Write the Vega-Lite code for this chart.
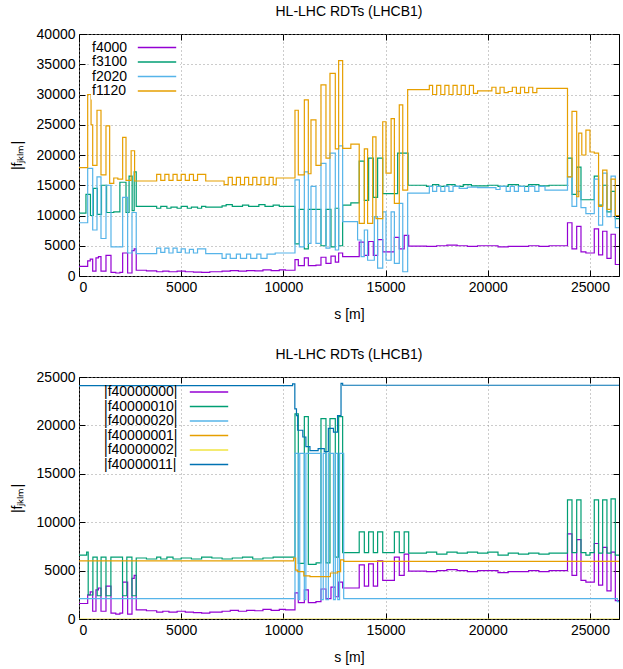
{
"$schema": "https://vega.github.io/schema/vega-lite/v6.json",
"padding": {"left": 9, "top": 4, "right": 0, "bottom": 0},
"spacing": 25,
"config": {
  "font": "Liberation Sans",
  "view": {"stroke": "black", "strokeWidth": 1},
  "axis": {"labelFontSize": 14, "titleFontSize": 14, "titleFontWeight": "normal", "labelColor": "#000", "titleColor": "#000", "domain": false, "tickColor": "#000", "tickSize": -6, "tickWidth": 1, "gridColor": "#999", "gridDash": [1, 3], "gridWidth": 1},
  "title": {"fontSize": 14, "fontWeight": "normal", "offset": 8, "color": "#000"}
},
"datasets": {
"top": [
{"s":0,"v":1600,"k":"f4000"},{"s":425,"v":2500,"k":"f4000"},{"s":550,"v":2800,"k":"f4000"},{"s":670,"v":800,"k":"f4000"},{"s":830,"v":3000,"k":"f4000"},{"s":950,"v":3200,"k":"f4000"},{"s":1076,"v":800,"k":"f4000"},{"s":1320,"v":3400,"k":"f4000"},{"s":1565,"v":600,"k":"f4000"},{"s":1800,"v":500,"k":"f4000"},{"s":2000,"v":600,"k":"f4000"},{"s":2136,"v":3800,"k":"f4000"},{"s":2380,"v":500,"k":"f4000"},{"s":2593,"v":4200,"k":"f4000"},{"s":2700,"v":4500,"k":"f4000"},{"s":2800,"v":950,"k":"f4000"},{"s":3300,"v":850,"k":"f4000"},{"s":3800,"v":700,"k":"f4000"},{"s":4100,"v":800,"k":"f4000"},{"s":4400,"v":700,"k":"f4000"},{"s":4800,"v":800,"k":"f4000"},{"s":5200,"v":700,"k":"f4000"},{"s":5600,"v":650,"k":"f4000"},{"s":6000,"v":600,"k":"f4000"},{"s":6400,"v":700,"k":"f4000"},{"s":7000,"v":800,"k":"f4000"},{"s":7400,"v":900,"k":"f4000"},{"s":7800,"v":800,"k":"f4000"},{"s":8200,"v":900,"k":"f4000"},{"s":8600,"v":850,"k":"f4000"},{"s":9000,"v":1000,"k":"f4000"},{"s":9400,"v":900,"k":"f4000"},{"s":9800,"v":1000,"k":"f4000"},{"s":10100,"v":950,"k":"f4000"},{"s":10567,"v":2700,"k":"f4000"},{"s":10730,"v":1700,"k":"f4000"},{"s":11025,"v":3000,"k":"f4000"},{"s":11220,"v":1700,"k":"f4000"},{"s":11594,"v":1800,"k":"f4000"},{"s":11839,"v":3100,"k":"f4000"},{"s":12083,"v":2100,"k":"f4000"},{"s":12328,"v":3300,"k":"f4000"},{"s":12540,"v":2300,"k":"f4000"},{"s":12703,"v":3800,"k":"f4000"},{"s":12899,"v":3200,"k":"f4000"},{"s":13710,"v":5600,"k":"f4000"},{"s":13960,"v":3400,"k":"f4000"},{"s":14170,"v":5700,"k":"f4000"},{"s":14400,"v":3400,"k":"f4000"},{"s":14610,"v":6000,"k":"f4000"},{"s":14860,"v":4000,"k":"f4000"},{"s":15430,"v":6400,"k":"f4000"},{"s":15670,"v":4500,"k":"f4000"},{"s":15910,"v":6700,"k":"f4000"},{"s":16130,"v":4950,"k":"f4000"},{"s":17000,"v":4900,"k":"f4000"},{"s":17500,"v":5000,"k":"f4000"},{"s":18000,"v":5100,"k":"f4000"},{"s":18500,"v":5000,"k":"f4000"},{"s":19000,"v":4900,"k":"f4000"},{"s":19500,"v":5000,"k":"f4000"},{"s":20500,"v":4800,"k":"f4000"},{"s":21000,"v":4900,"k":"f4000"},{"s":22000,"v":5000,"k":"f4000"},{"s":22500,"v":4900,"k":"f4000"},{"s":23000,"v":5000,"k":"f4000"},{"s":23900,"v":8800,"k":"f4000"},{"s":24120,"v":4500,"k":"f4000"},{"s":24350,"v":8200,"k":"f4000"},{"s":24560,"v":4000,"k":"f4000"},{"s":24800,"v":3800,"k":"f4000"},{"s":25210,"v":7800,"k":"f4000"},{"s":25420,"v":3500,"k":"f4000"},{"s":25620,"v":7400,"k":"f4000"},{"s":25830,"v":2900,"k":"f4000"},{"s":26030,"v":6900,"k":"f4000"},{"s":26240,"v":1900,"k":"f4000"},{"s":26420,"v":1900,"k":"f4000"},
{"s":0,"v":10400,"k":"f3100"},{"s":340,"v":13500,"k":"f3100"},{"s":560,"v":10000,"k":"f3100"},{"s":700,"v":14500,"k":"f3100"},{"s":900,"v":10200,"k":"f3100"},{"s":1100,"v":15000,"k":"f3100"},{"s":1350,"v":10500,"k":"f3100"},{"s":1700,"v":10600,"k":"f3100"},{"s":2000,"v":15500,"k":"f3100"},{"s":2300,"v":10500,"k":"f3100"},{"s":2450,"v":16500,"k":"f3100"},{"s":2600,"v":10800,"k":"f3100"},{"s":2700,"v":17200,"k":"f3100"},{"s":2800,"v":11500,"k":"f3100"},{"s":3800,"v":11200,"k":"f3100"},{"s":4000,"v":11500,"k":"f3100"},{"s":4300,"v":11200,"k":"f3100"},{"s":4500,"v":11400,"k":"f3100"},{"s":4800,"v":11200,"k":"f3100"},{"s":5000,"v":11500,"k":"f3100"},{"s":5300,"v":11200,"k":"f3100"},{"s":5500,"v":11400,"k":"f3100"},{"s":5800,"v":11200,"k":"f3100"},{"s":6000,"v":11500,"k":"f3100"},{"s":6200,"v":11400,"k":"f3100"},{"s":7000,"v":11600,"k":"f3100"},{"s":7200,"v":11800,"k":"f3100"},{"s":7500,"v":11500,"k":"f3100"},{"s":8000,"v":11700,"k":"f3100"},{"s":8300,"v":11500,"k":"f3100"},{"s":8800,"v":11800,"k":"f3100"},{"s":9100,"v":11500,"k":"f3100"},{"s":9500,"v":11700,"k":"f3100"},{"s":9800,"v":11500,"k":"f3100"},{"s":10567,"v":5300,"k":"f3100"},{"s":10780,"v":11000,"k":"f3100"},{"s":11025,"v":4500,"k":"f3100"},{"s":11220,"v":11000,"k":"f3100"},{"s":11839,"v":5000,"k":"f3100"},{"s":12083,"v":11000,"k":"f3100"},{"s":12328,"v":4800,"k":"f3100"},{"s":12540,"v":11200,"k":"f3100"},{"s":12703,"v":5000,"k":"f3100"},{"s":12899,"v":11700,"k":"f3100"},{"s":13300,"v":12100,"k":"f3100"},{"s":13710,"v":19000,"k":"f3100"},{"s":13960,"v":12500,"k":"f3100"},{"s":14170,"v":19500,"k":"f3100"},{"s":14400,"v":13000,"k":"f3100"},{"s":14610,"v":19500,"k":"f3100"},{"s":14860,"v":13600,"k":"f3100"},{"s":15590,"v":20300,"k":"f3100"},{"s":16100,"v":15000,"k":"f3100"},{"s":17000,"v":14800,"k":"f3100"},{"s":17300,"v":15100,"k":"f3100"},{"s":17600,"v":14800,"k":"f3100"},{"s":18000,"v":15100,"k":"f3100"},{"s":18400,"v":14800,"k":"f3100"},{"s":18800,"v":15100,"k":"f3100"},{"s":19200,"v":14900,"k":"f3100"},{"s":20000,"v":15000,"k":"f3100"},{"s":20500,"v":14800,"k":"f3100"},{"s":21000,"v":15100,"k":"f3100"},{"s":21500,"v":14800,"k":"f3100"},{"s":22000,"v":15100,"k":"f3100"},{"s":22500,"v":14900,"k":"f3100"},{"s":23000,"v":15000,"k":"f3100"},{"s":23900,"v":19500,"k":"f3100"},{"s":24120,"v":13500,"k":"f3100"},{"s":24350,"v":18000,"k":"f3100"},{"s":24560,"v":12600,"k":"f3100"},{"s":25210,"v":16500,"k":"f3100"},{"s":25420,"v":11700,"k":"f3100"},{"s":25620,"v":15000,"k":"f3100"},{"s":25830,"v":10600,"k":"f3100"},{"s":26030,"v":14000,"k":"f3100"},{"s":26240,"v":9500,"k":"f3100"},{"s":26420,"v":9500,"k":"f3100"},
{"s":0,"v":8800,"k":"f2020"},{"s":425,"v":17800,"k":"f2020"},{"s":670,"v":7600,"k":"f2020"},{"s":880,"v":16400,"k":"f2020"},{"s":1076,"v":6200,"k":"f2020"},{"s":1320,"v":15000,"k":"f2020"},{"s":1565,"v":4800,"k":"f2020"},{"s":2136,"v":13000,"k":"f2020"},{"s":2380,"v":3800,"k":"f2020"},{"s":2593,"v":10500,"k":"f2020"},{"s":2800,"v":3700,"k":"f2020"},{"s":3800,"v":4600,"k":"f2020"},{"s":4000,"v":3900,"k":"f2020"},{"s":4200,"v":4600,"k":"f2020"},{"s":4400,"v":3800,"k":"f2020"},{"s":4600,"v":4600,"k":"f2020"},{"s":4800,"v":3900,"k":"f2020"},{"s":5000,"v":4500,"k":"f2020"},{"s":5200,"v":3800,"k":"f2020"},{"s":5400,"v":4400,"k":"f2020"},{"s":5600,"v":3800,"k":"f2020"},{"s":5800,"v":4500,"k":"f2020"},{"s":6200,"v":3700,"k":"f2020"},{"s":7000,"v":2900,"k":"f2020"},{"s":7200,"v":3600,"k":"f2020"},{"s":7400,"v":2900,"k":"f2020"},{"s":7700,"v":3600,"k":"f2020"},{"s":7900,"v":2900,"k":"f2020"},{"s":8200,"v":3600,"k":"f2020"},{"s":8400,"v":2900,"k":"f2020"},{"s":8700,"v":3600,"k":"f2020"},{"s":8900,"v":2900,"k":"f2020"},{"s":9200,"v":3600,"k":"f2020"},{"s":9600,"v":3800,"k":"f2020"},{"s":10567,"v":15900,"k":"f2020"},{"s":10780,"v":4800,"k":"f2020"},{"s":11025,"v":17200,"k":"f2020"},{"s":11220,"v":5400,"k":"f2020"},{"s":11350,"v":14800,"k":"f2020"},{"s":11594,"v":5400,"k":"f2020"},{"s":11839,"v":18600,"k":"f2020"},{"s":12083,"v":4600,"k":"f2020"},{"s":12279,"v":20300,"k":"f2020"},{"s":12540,"v":4300,"k":"f2020"},{"s":12703,"v":21500,"k":"f2020"},{"s":12899,"v":9000,"k":"f2020"},{"s":13630,"v":5950,"k":"f2020"},{"s":13800,"v":3200,"k":"f2020"},{"s":13960,"v":7600,"k":"f2020"},{"s":14120,"v":2600,"k":"f2020"},{"s":14450,"v":9800,"k":"f2020"},{"s":14610,"v":1300,"k":"f2020"},{"s":14860,"v":10600,"k":"f2020"},{"s":15020,"v":2600,"k":"f2020"},{"s":15270,"v":10600,"k":"f2020"},{"s":15430,"v":2100,"k":"f2020"},{"s":15670,"v":12000,"k":"f2020"},{"s":15840,"v":700,"k":"f2020"},{"s":16080,"v":13700,"k":"f2020"},{"s":17140,"v":14800,"k":"f2020"},{"s":17300,"v":14000,"k":"f2020"},{"s":17500,"v":14800,"k":"f2020"},{"s":17700,"v":14000,"k":"f2020"},{"s":17900,"v":14800,"k":"f2020"},{"s":18100,"v":14000,"k":"f2020"},{"s":18300,"v":14800,"k":"f2020"},{"s":18600,"v":14500,"k":"f2020"},{"s":19000,"v":14700,"k":"f2020"},{"s":19500,"v":14600,"k":"f2020"},{"s":20400,"v":14300,"k":"f2020"},{"s":20600,"v":14800,"k":"f2020"},{"s":20900,"v":14000,"k":"f2020"},{"s":21100,"v":14800,"k":"f2020"},{"s":21300,"v":14000,"k":"f2020"},{"s":21500,"v":14800,"k":"f2020"},{"s":21800,"v":14000,"k":"f2020"},{"s":22000,"v":14800,"k":"f2020"},{"s":22300,"v":14000,"k":"f2020"},{"s":22500,"v":14800,"k":"f2020"},{"s":22800,"v":14200,"k":"f2020"},{"s":23900,"v":16400,"k":"f2020"},{"s":24120,"v":11500,"k":"f2020"},{"s":24350,"v":14000,"k":"f2020"},{"s":24560,"v":11300,"k":"f2020"},{"s":24800,"v":10300,"k":"f2020"},{"s":25210,"v":16000,"k":"f2020"},{"s":25420,"v":8400,"k":"f2020"},{"s":25620,"v":17000,"k":"f2020"},{"s":25830,"v":9800,"k":"f2020"},{"s":26030,"v":16500,"k":"f2020"},{"s":26240,"v":8000,"k":"f2020"},{"s":26420,"v":8000,"k":"f2020"},
{"s":0,"v":17900,"k":"f1120"},{"s":425,"v":30000,"k":"f1120"},{"s":590,"v":25000,"k":"f1120"},{"s":670,"v":18300,"k":"f1120"},{"s":880,"v":27400,"k":"f1120"},{"s":1076,"v":16700,"k":"f1120"},{"s":1320,"v":24800,"k":"f1120"},{"s":1500,"v":15300,"k":"f1120"},{"s":1700,"v":16200,"k":"f1120"},{"s":1900,"v":16000,"k":"f1120"},{"s":2136,"v":22900,"k":"f1120"},{"s":2300,"v":15800,"k":"f1120"},{"s":2550,"v":20700,"k":"f1120"},{"s":2720,"v":15700,"k":"f1120"},{"s":3800,"v":16800,"k":"f1120"},{"s":4000,"v":15800,"k":"f1120"},{"s":4200,"v":16800,"k":"f1120"},{"s":4400,"v":15800,"k":"f1120"},{"s":4600,"v":16800,"k":"f1120"},{"s":4800,"v":15800,"k":"f1120"},{"s":5000,"v":16800,"k":"f1120"},{"s":5200,"v":15800,"k":"f1120"},{"s":5400,"v":16800,"k":"f1120"},{"s":5600,"v":15800,"k":"f1120"},{"s":5800,"v":16800,"k":"f1120"},{"s":6200,"v":15700,"k":"f1120"},{"s":7100,"v":15100,"k":"f1120"},{"s":7300,"v":16300,"k":"f1120"},{"s":7500,"v":15100,"k":"f1120"},{"s":7700,"v":16300,"k":"f1120"},{"s":7900,"v":15100,"k":"f1120"},{"s":8100,"v":16300,"k":"f1120"},{"s":8300,"v":15100,"k":"f1120"},{"s":8500,"v":16300,"k":"f1120"},{"s":8700,"v":15100,"k":"f1120"},{"s":8900,"v":16300,"k":"f1120"},{"s":9100,"v":15100,"k":"f1120"},{"s":9300,"v":16300,"k":"f1120"},{"s":9500,"v":15100,"k":"f1120"},{"s":9650,"v":16200,"k":"f1120"},{"s":10567,"v":27400,"k":"f1120"},{"s":10730,"v":16700,"k":"f1120"},{"s":11025,"v":29100,"k":"f1120"},{"s":11220,"v":16900,"k":"f1120"},{"s":11350,"v":25800,"k":"f1120"},{"s":11594,"v":18300,"k":"f1120"},{"s":11839,"v":31600,"k":"f1120"},{"s":12083,"v":19500,"k":"f1120"},{"s":12279,"v":33500,"k":"f1120"},{"s":12540,"v":21000,"k":"f1120"},{"s":12703,"v":35600,"k":"f1120"},{"s":12899,"v":21100,"k":"f1120"},{"s":13300,"v":21800,"k":"f1120"},{"s":13710,"v":8700,"k":"f1120"},{"s":13960,"v":21000,"k":"f1120"},{"s":14120,"v":8700,"k":"f1120"},{"s":14370,"v":23000,"k":"f1120"},{"s":14530,"v":9500,"k":"f1120"},{"s":14860,"v":25500,"k":"f1120"},{"s":15020,"v":17000,"k":"f1120"},{"s":15270,"v":26000,"k":"f1120"},{"s":15430,"v":12000,"k":"f1120"},{"s":15670,"v":28300,"k":"f1120"},{"s":15840,"v":14200,"k":"f1120"},{"s":16080,"v":30800,"k":"f1120"},{"s":17140,"v":31500,"k":"f1120"},{"s":17300,"v":30000,"k":"f1120"},{"s":17500,"v":31500,"k":"f1120"},{"s":17700,"v":30000,"k":"f1120"},{"s":17900,"v":31500,"k":"f1120"},{"s":18100,"v":30000,"k":"f1120"},{"s":18300,"v":31500,"k":"f1120"},{"s":18500,"v":30000,"k":"f1120"},{"s":18700,"v":31500,"k":"f1120"},{"s":18900,"v":30000,"k":"f1120"},{"s":19100,"v":31500,"k":"f1120"},{"s":19300,"v":30200,"k":"f1120"},{"s":19500,"v":30600,"k":"f1120"},{"s":20200,"v":31200,"k":"f1120"},{"s":20400,"v":30200,"k":"f1120"},{"s":20600,"v":31200,"k":"f1120"},{"s":20800,"v":30300,"k":"f1120"},{"s":21000,"v":30500,"k":"f1120"},{"s":21200,"v":31200,"k":"f1120"},{"s":21400,"v":30200,"k":"f1120"},{"s":21600,"v":31200,"k":"f1120"},{"s":21800,"v":30300,"k":"f1120"},{"s":22000,"v":31200,"k":"f1120"},{"s":22200,"v":30300,"k":"f1120"},{"s":22400,"v":31000,"k":"f1120"},{"s":23900,"v":16400,"k":"f1120"},{"s":24120,"v":27200,"k":"f1120"},{"s":24350,"v":13100,"k":"f1120"},{"s":24450,"v":23600,"k":"f1120"},{"s":24600,"v":20000,"k":"f1120"},{"s":24800,"v":24100,"k":"f1120"},{"s":25000,"v":20500,"k":"f1120"},{"s":25210,"v":20300,"k":"f1120"},{"s":25420,"v":11500,"k":"f1120"},{"s":25620,"v":17500,"k":"f1120"},{"s":25830,"v":11000,"k":"f1120"},{"s":26030,"v":16000,"k":"f1120"},{"s":26240,"v":10000,"k":"f1120"},{"s":26420,"v":10000,"k":"f1120"}
],
"bot": [
{"s":0,"v":1600,"k":"|f40000000|"},{"s":425,"v":2500,"k":"|f40000000|"},{"s":550,"v":2800,"k":"|f40000000|"},{"s":670,"v":800,"k":"|f40000000|"},{"s":830,"v":3000,"k":"|f40000000|"},{"s":950,"v":3200,"k":"|f40000000|"},{"s":1076,"v":800,"k":"|f40000000|"},{"s":1320,"v":3400,"k":"|f40000000|"},{"s":1565,"v":600,"k":"|f40000000|"},{"s":1800,"v":500,"k":"|f40000000|"},{"s":2000,"v":600,"k":"|f40000000|"},{"s":2136,"v":3800,"k":"|f40000000|"},{"s":2380,"v":500,"k":"|f40000000|"},{"s":2593,"v":4200,"k":"|f40000000|"},{"s":2700,"v":4500,"k":"|f40000000|"},{"s":2800,"v":950,"k":"|f40000000|"},{"s":3300,"v":850,"k":"|f40000000|"},{"s":3800,"v":700,"k":"|f40000000|"},{"s":4100,"v":800,"k":"|f40000000|"},{"s":4400,"v":700,"k":"|f40000000|"},{"s":4800,"v":800,"k":"|f40000000|"},{"s":5200,"v":700,"k":"|f40000000|"},{"s":5600,"v":650,"k":"|f40000000|"},{"s":6000,"v":600,"k":"|f40000000|"},{"s":6400,"v":700,"k":"|f40000000|"},{"s":7000,"v":800,"k":"|f40000000|"},{"s":7400,"v":900,"k":"|f40000000|"},{"s":7800,"v":800,"k":"|f40000000|"},{"s":8200,"v":900,"k":"|f40000000|"},{"s":8600,"v":850,"k":"|f40000000|"},{"s":9000,"v":1000,"k":"|f40000000|"},{"s":9400,"v":900,"k":"|f40000000|"},{"s":9800,"v":1000,"k":"|f40000000|"},{"s":10100,"v":950,"k":"|f40000000|"},{"s":10567,"v":2700,"k":"|f40000000|"},{"s":10730,"v":1700,"k":"|f40000000|"},{"s":11025,"v":3000,"k":"|f40000000|"},{"s":11220,"v":1700,"k":"|f40000000|"},{"s":11594,"v":1800,"k":"|f40000000|"},{"s":11839,"v":3100,"k":"|f40000000|"},{"s":12083,"v":2100,"k":"|f40000000|"},{"s":12328,"v":3300,"k":"|f40000000|"},{"s":12540,"v":2300,"k":"|f40000000|"},{"s":12703,"v":3800,"k":"|f40000000|"},{"s":12899,"v":3200,"k":"|f40000000|"},{"s":13710,"v":5600,"k":"|f40000000|"},{"s":13960,"v":3400,"k":"|f40000000|"},{"s":14170,"v":5700,"k":"|f40000000|"},{"s":14400,"v":3400,"k":"|f40000000|"},{"s":14610,"v":6000,"k":"|f40000000|"},{"s":14860,"v":4000,"k":"|f40000000|"},{"s":15430,"v":6400,"k":"|f40000000|"},{"s":15670,"v":4500,"k":"|f40000000|"},{"s":15910,"v":6700,"k":"|f40000000|"},{"s":16130,"v":4950,"k":"|f40000000|"},{"s":17000,"v":4900,"k":"|f40000000|"},{"s":17500,"v":5000,"k":"|f40000000|"},{"s":18000,"v":5100,"k":"|f40000000|"},{"s":18500,"v":5000,"k":"|f40000000|"},{"s":19000,"v":4900,"k":"|f40000000|"},{"s":19500,"v":5000,"k":"|f40000000|"},{"s":20500,"v":4800,"k":"|f40000000|"},{"s":21000,"v":4900,"k":"|f40000000|"},{"s":22000,"v":5000,"k":"|f40000000|"},{"s":22500,"v":4900,"k":"|f40000000|"},{"s":23000,"v":5000,"k":"|f40000000|"},{"s":23900,"v":8800,"k":"|f40000000|"},{"s":24120,"v":4500,"k":"|f40000000|"},{"s":24350,"v":8200,"k":"|f40000000|"},{"s":24560,"v":4000,"k":"|f40000000|"},{"s":24800,"v":3800,"k":"|f40000000|"},{"s":25210,"v":7800,"k":"|f40000000|"},{"s":25420,"v":3500,"k":"|f40000000|"},{"s":25620,"v":7400,"k":"|f40000000|"},{"s":25830,"v":2900,"k":"|f40000000|"},{"s":26030,"v":6900,"k":"|f40000000|"},{"s":26240,"v":1900,"k":"|f40000000|"},{"s":26420,"v":1900,"k":"|f40000000|"},
{"s":0,"v":6600,"k":"|f40000010|"},{"s":375,"v":6900,"k":"|f40000010|"},{"s":450,"v":2480,"k":"|f40000010|"},{"s":680,"v":6400,"k":"|f40000010|"},{"s":890,"v":2400,"k":"|f40000010|"},{"s":1080,"v":6400,"k":"|f40000010|"},{"s":1320,"v":2400,"k":"|f40000010|"},{"s":1560,"v":6400,"k":"|f40000010|"},{"s":2130,"v":2400,"k":"|f40000010|"},{"s":2340,"v":6400,"k":"|f40000010|"},{"s":2590,"v":2400,"k":"|f40000010|"},{"s":2800,"v":6300,"k":"|f40000010|"},{"s":3300,"v":6200,"k":"|f40000010|"},{"s":3800,"v":6400,"k":"|f40000010|"},{"s":4000,"v":6200,"k":"|f40000010|"},{"s":4300,"v":6400,"k":"|f40000010|"},{"s":4600,"v":6200,"k":"|f40000010|"},{"s":5000,"v":6300,"k":"|f40000010|"},{"s":5500,"v":6200,"k":"|f40000010|"},{"s":6000,"v":6400,"k":"|f40000010|"},{"s":6500,"v":6300,"k":"|f40000010|"},{"s":7000,"v":6200,"k":"|f40000010|"},{"s":7500,"v":6300,"k":"|f40000010|"},{"s":8000,"v":6400,"k":"|f40000010|"},{"s":8500,"v":6200,"k":"|f40000010|"},{"s":9000,"v":6300,"k":"|f40000010|"},{"s":9500,"v":6400,"k":"|f40000010|"},{"s":10567,"v":21200,"k":"|f40000010|"},{"s":10730,"v":5750,"k":"|f40000010|"},{"s":11025,"v":20900,"k":"|f40000010|"},{"s":11220,"v":5640,"k":"|f40000010|"},{"s":11600,"v":5800,"k":"|f40000010|"},{"s":11839,"v":20700,"k":"|f40000010|"},{"s":12083,"v":5800,"k":"|f40000010|"},{"s":12279,"v":20700,"k":"|f40000010|"},{"s":12540,"v":6400,"k":"|f40000010|"},{"s":12703,"v":20900,"k":"|f40000010|"},{"s":12899,"v":6850,"k":"|f40000010|"},{"s":13710,"v":9000,"k":"|f40000010|"},{"s":13960,"v":6850,"k":"|f40000010|"},{"s":14170,"v":9000,"k":"|f40000010|"},{"s":14400,"v":6850,"k":"|f40000010|"},{"s":14610,"v":9000,"k":"|f40000010|"},{"s":14860,"v":6850,"k":"|f40000010|"},{"s":15430,"v":9000,"k":"|f40000010|"},{"s":15670,"v":6850,"k":"|f40000010|"},{"s":15910,"v":9000,"k":"|f40000010|"},{"s":16130,"v":6800,"k":"|f40000010|"},{"s":17000,"v":6900,"k":"|f40000010|"},{"s":17500,"v":6700,"k":"|f40000010|"},{"s":18000,"v":6900,"k":"|f40000010|"},{"s":18500,"v":6800,"k":"|f40000010|"},{"s":19000,"v":6900,"k":"|f40000010|"},{"s":19500,"v":6800,"k":"|f40000010|"},{"s":20000,"v":6900,"k":"|f40000010|"},{"s":20500,"v":6600,"k":"|f40000010|"},{"s":21000,"v":6800,"k":"|f40000010|"},{"s":21500,"v":6700,"k":"|f40000010|"},{"s":22000,"v":6800,"k":"|f40000010|"},{"s":22500,"v":6700,"k":"|f40000010|"},{"s":23000,"v":6800,"k":"|f40000010|"},{"s":23900,"v":12300,"k":"|f40000010|"},{"s":24120,"v":6850,"k":"|f40000010|"},{"s":24350,"v":12300,"k":"|f40000010|"},{"s":24560,"v":6850,"k":"|f40000010|"},{"s":24800,"v":6600,"k":"|f40000010|"},{"s":25000,"v":6850,"k":"|f40000010|"},{"s":25210,"v":12300,"k":"|f40000010|"},{"s":25420,"v":6800,"k":"|f40000010|"},{"s":25620,"v":12300,"k":"|f40000010|"},{"s":25830,"v":6800,"k":"|f40000010|"},{"s":26030,"v":12400,"k":"|f40000010|"},{"s":26240,"v":6600,"k":"|f40000010|"},{"s":26420,"v":6600,"k":"|f40000010|"},
{"s":0,"v":2100,"k":"|f40000020|"},{"s":10567,"v":17100,"k":"|f40000020|"},{"s":10730,"v":2000,"k":"|f40000020|"},{"s":10800,"v":17100,"k":"|f40000020|"},{"s":11025,"v":2000,"k":"|f40000020|"},{"s":11100,"v":17100,"k":"|f40000020|"},{"s":11839,"v":2000,"k":"|f40000020|"},{"s":11950,"v":17100,"k":"|f40000020|"},{"s":12083,"v":2000,"k":"|f40000020|"},{"s":12200,"v":17100,"k":"|f40000020|"},{"s":12450,"v":2000,"k":"|f40000020|"},{"s":12540,"v":17100,"k":"|f40000020|"},{"s":12660,"v":2000,"k":"|f40000020|"},{"s":12750,"v":17100,"k":"|f40000020|"},{"s":12950,"v":2100,"k":"|f40000020|"},{"s":26300,"v":2100,"k":"|f40000020|"},{"s":26340,"v":1800,"k":"|f40000020|"},{"s":26420,"v":1800,"k":"|f40000020|"},
{"s":0,"v":6000,"k":"|f40000001|"},{"s":10500,"v":6300,"k":"|f40000001|"},{"s":10600,"v":5050,"k":"|f40000001|"},{"s":10700,"v":4900,"k":"|f40000001|"},{"s":11000,"v":4450,"k":"|f40000001|"},{"s":11300,"v":4370,"k":"|f40000001|"},{"s":12300,"v":4750,"k":"|f40000001|"},{"s":12650,"v":4900,"k":"|f40000001|"},{"s":12800,"v":6100,"k":"|f40000001|"},{"s":12950,"v":5950,"k":"|f40000001|"},{"s":26420,"v":5950,"k":"|f40000001|"},
{"s":0,"v":0,"k":"|f40000002|"},{"s":26420,"v":0,"k":"|f40000002|"},
{"s":0,"v":24100,"k":"|f40000011|"},{"s":10450,"v":24300,"k":"|f40000011|"},{"s":10560,"v":21700,"k":"|f40000011|"},{"s":10640,"v":21000,"k":"|f40000011|"},{"s":10700,"v":19500,"k":"|f40000011|"},{"s":10950,"v":18800,"k":"|f40000011|"},{"s":11100,"v":17800,"k":"|f40000011|"},{"s":11300,"v":17400,"k":"|f40000011|"},{"s":11700,"v":17600,"k":"|f40000011|"},{"s":12000,"v":17300,"k":"|f40000011|"},{"s":12200,"v":19700,"k":"|f40000011|"},{"s":12450,"v":19300,"k":"|f40000011|"},{"s":12650,"v":21000,"k":"|f40000011|"},{"s":12820,"v":24350,"k":"|f40000011|"},{"s":12900,"v":24150,"k":"|f40000011|"},{"s":26420,"v":24150,"k":"|f40000011|"}
]
},
"resolve": {"scale": {"x": "independent", "y": "independent", "color": "independent"}, "legend": {"color": "independent"}},
"vconcat": [
{
  "title": "HL-LHC RDTs (LHCB1)",
  "width": 540, "height": 242,
  "data": {"name": "top"},
  "resolve": {"axis": {"x": "independent", "y": "independent"}},
  "layer": [
    {
      "mark": {"type": "line", "interpolate": "step-after", "strokeWidth": 1.2, "clip": true},
      "encoding": {
        "x": {"field": "s", "type": "quantitative", "scale": {"domain": [0, 26420], "nice": false, "zero": false}, "axis": {"values": [0, 5000, 10000, 15000, 20000, 25000], "format": "d", "title": "s [m]", "grid": true, "labelPadding": 10, "titlePadding": 13}},
        "y": {"field": "v", "type": "quantitative", "scale": {"domain": [0, 40000], "nice": false}, "axis": {"values": [0, 5000, 10000, 15000, 20000, 25000, 30000, 35000, 40000], "format": "d", "title": "|fⱼₖₗₘ|", "grid": true, "labelPadding": 10, "titlePadding": 12}},
        "color": {"field": "k", "type": "nominal", "scale": {"domain": ["f4000", "f3100", "f2020", "f1120"], "range": ["#9400d3", "#009e73", "#56b4e9", "#e69f00"]},
          "legend": {"title": null, "orient": "none", "legendX": 12, "legendY": 5.5, "symbolType": "M-3.2,0H3.2", "symbolSize": 144, "symbolStrokeWidth": 1.3, "symbolOffset": 58, "labelOffset": -72, "labelAlign": "left", "labelFontSize": 14, "labelColor": "#000", "labelLimit": 300, "rowPadding": 0.5, "fillColor": "white", "padding": 1}}
      }
    },
    {
      "mark": {"type": "point", "opacity": 0},
      "encoding": {
        "x": {"field": "s", "type": "quantitative", "axis": {"orient": "top", "values": [0, 5000, 10000, 15000, 20000, 25000], "labels": false, "title": null, "grid": false}},
        "y": {"field": "v", "type": "quantitative", "axis": {"orient": "right", "values": [0, 5000, 10000, 15000, 20000, 25000, 30000, 35000, 40000], "labels": false, "title": null, "grid": false}}
      }
    }
  ]
},
{
  "title": "HL-LHC RDTs (LHCB1)",
  "width": 540, "height": 242,
  "data": {"name": "bot"},
  "resolve": {"axis": {"x": "independent", "y": "independent"}},
  "layer": [
    {
      "mark": {"type": "line", "interpolate": "step-after", "strokeWidth": 1.2, "clip": true},
      "encoding": {
        "x": {"field": "s", "type": "quantitative", "scale": {"domain": [0, 26420], "nice": false, "zero": false}, "axis": {"values": [0, 5000, 10000, 15000, 20000, 25000], "format": "d", "title": "s [m]", "grid": true, "labelPadding": 10, "titlePadding": 13}},
        "y": {"field": "v", "type": "quantitative", "scale": {"domain": [0, 25000], "nice": false}, "axis": {"values": [0, 5000, 10000, 15000, 20000, 25000], "format": "d", "title": "|fⱼₖₗₘ|", "grid": true, "labelPadding": 10, "titlePadding": 12}},
        "color": {"field": "k", "type": "nominal", "scale": {"domain": ["|f40000000|", "|f40000010|", "|f40000020|", "|f40000001|", "|f40000002|", "|f40000011|"], "range": ["#9400d3", "#009e73", "#56b4e9", "#e69f00", "#f0e442", "#0072b2"]},
          "legend": {"title": null, "orient": "none", "legendX": 25, "legendY": 8, "symbolType": "M-3.2,0H3.2", "symbolSize": 144, "symbolStrokeWidth": 1.3, "symbolOffset": 98, "labelOffset": -112, "labelAlign": "left", "labelFontSize": 14, "labelColor": "#000", "labelLimit": 300, "rowPadding": 0.5, "padding": 0}}
      }
    },
    {
      "mark": {"type": "point", "opacity": 0},
      "encoding": {
        "x": {"field": "s", "type": "quantitative", "axis": {"orient": "top", "values": [0, 5000, 10000, 15000, 20000, 25000], "labels": false, "title": null, "grid": false}},
        "y": {"field": "v", "type": "quantitative", "axis": {"orient": "right", "values": [0, 5000, 10000, 15000, 20000, 25000], "labels": false, "title": null, "grid": false}}
      }
    }
  ]
}
]
}
